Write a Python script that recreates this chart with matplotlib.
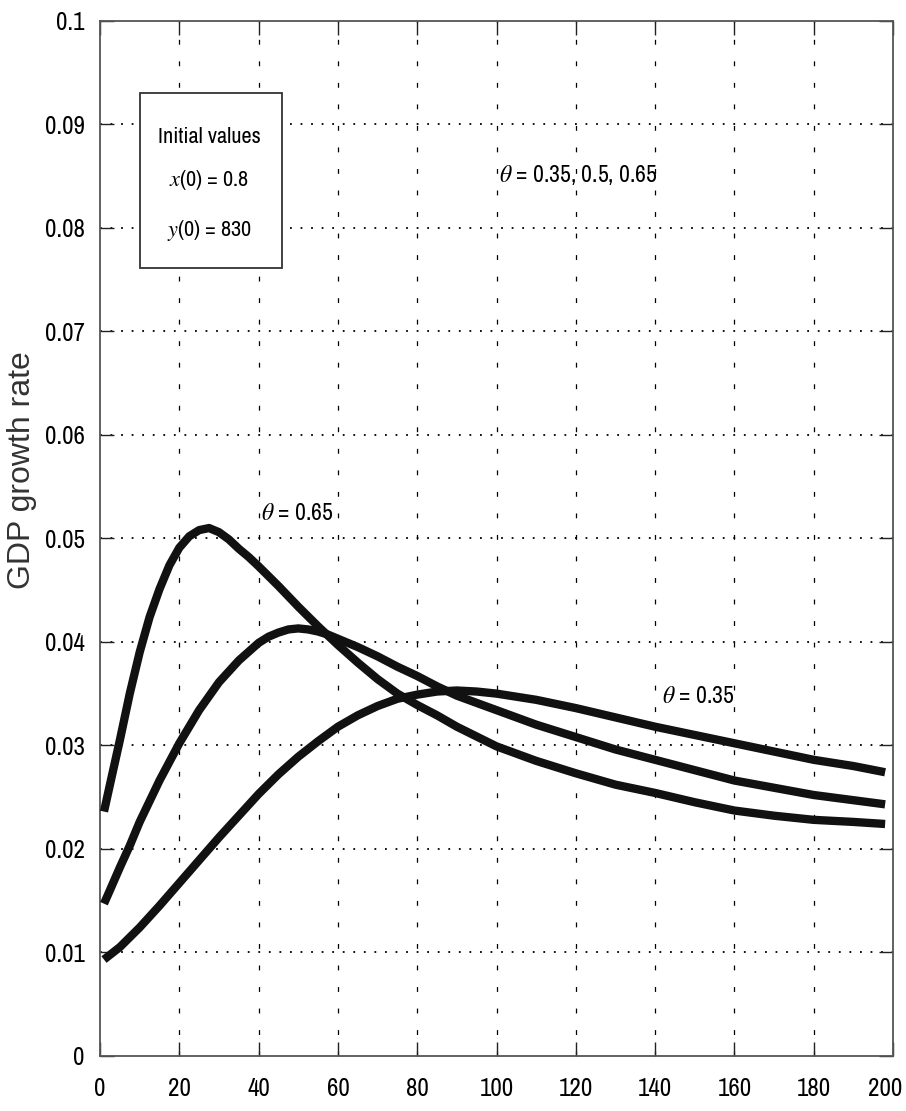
import numpy as np
import matplotlib
matplotlib.use("Agg")
import matplotlib.pyplot as plt
import matplotlib.patches as mpatches
import matplotlib.transforms as mtransforms
from matplotlib import font_manager

# values
x_065 = [1, 2.5, 5, 7.5, 10, 12.5, 15, 17.5, 20, 22.5, 25, 27.5, 30, 32.5, 35, 37.5, 40,
         45, 50, 55, 60, 65, 70, 75, 80, 85, 90, 100, 110, 120, 130, 140, 150, 160, 170,
         180, 190, 198]
y_065 = [0.0236, 0.0262, 0.0305, 0.0350, 0.0390, 0.0424, 0.0451, 0.0474, 0.0491, 0.0502,
         0.0508, 0.0510, 0.0506, 0.0499, 0.0490, 0.0482, 0.0473, 0.0454, 0.0434, 0.0415,
         0.0397, 0.0380, 0.0364, 0.0350, 0.0339, 0.0329, 0.0318, 0.0299, 0.0285, 0.0273,
         0.0262, 0.0254, 0.0245, 0.0237, 0.0232, 0.0228, 0.0226, 0.0224]

x_050 = [1, 2.5, 5, 7.5, 10, 15, 20, 25, 30, 35, 40, 42.5, 45, 47.5, 50, 52.5, 55, 57.5,
         60, 65, 70, 75, 80, 85, 90, 100, 110, 120, 130, 140, 150, 160, 170, 180, 190, 198]
y_050 = [0.0147, 0.0160, 0.0182, 0.0203, 0.0226, 0.0266, 0.0302, 0.0334, 0.0361, 0.0382,
         0.0399, 0.0405, 0.0409, 0.0412, 0.0413, 0.0412, 0.0410, 0.0407, 0.0403, 0.0395,
         0.0386, 0.0376, 0.0367, 0.0357, 0.0348, 0.0334, 0.0320, 0.0308, 0.0296, 0.0286,
         0.0276, 0.0266, 0.0259, 0.0252, 0.0247, 0.0243]

x_035 = [1, 5, 10, 15, 20, 25, 30, 35, 40, 45, 50, 55, 60, 65, 70, 75, 80, 85, 90, 95,
         100, 110, 120, 130, 140, 150, 160, 170, 180, 190, 198]
y_035 = [0.0093, 0.0105, 0.0124, 0.0145, 0.0167, 0.0189, 0.0211, 0.0232, 0.0253, 0.0272,
         0.0289, 0.0304, 0.0318, 0.0329, 0.0338, 0.0345, 0.0349, 0.0352, 0.0353, 0.0352,
         0.0350, 0.0344, 0.0336, 0.0327, 0.0318, 0.0310, 0.0302, 0.0294, 0.0286, 0.0280,
         0.0274]

xticks = np.arange(0, 201, 20)
yticks = np.round(np.arange(0, 0.101, 0.01), 2)
ytick_labels = ["0"] + ["%g" % v for v in yticks[1:]]

# use a narrow sans if the machine has one, else plain Liberation Sans
names = {f.name for f in font_manager.fontManager.ttflist}
narrow_names = sorted(n for n in names if "Narrow" in n or "Condensed" in n)
narrow = narrow_names[:1] + ["Liberation Sans", "DejaVu Sans"]

plt.rcParams["mathtext.fontset"] = "stix"
plt.rcParams["lines.scale_dashes"] = False

fig = plt.figure(figsize=(9.06, 11.11), dpi=100)
ax = fig.add_axes([0.1104, 0.0497, 0.8753, 0.9314])

# grid: dashed verticals, dotted horizontals
for xv in xticks[1:-1]:
    ax.axvline(xv, color="black", lw=0.9, ls=(0, (3.5, 12)), zorder=1)
for yv in yticks[1:-1]:
    ax.axhline(yv, color="black", lw=1.3, ls=(0, (1.3, 6.3)), zorder=1)

for xs, ys in [(x_065, y_065), (x_050, y_050), (x_035, y_035)]:
    ax.plot(xs, ys, color="#111111", lw=6, solid_capstyle="butt",
            solid_joinstyle="round", zorder=3)

ax.set_xlim(0, 200)
ax.set_ylim(0, 0.1)
ax.set_xticks(xticks)
ax.set_xticklabels([str(v) for v in xticks], family=narrow, fontsize=18)
ax.set_yticks(yticks)
ax.set_yticklabels(ytick_labels, family=narrow, fontsize=18)
ax.tick_params(direction="in", length=10, width=1, top=True, right=True, color="#222222")
ax.tick_params(axis="x", pad=15)
ax.tick_params(axis="y", pad=11)
for s in ax.spines.values():
    s.set_color("#555555")
    s.set_linewidth(1.3)

# keep the last x label inside the figure
last = ax.get_xticklabels()[-1]
last.set_transform(last.get_transform() +
                   mtransforms.ScaledTranslation(-8 / 100, 0, fig.dpi_scale_trans))

ax.set_ylabel("GDP growth rate", fontsize=23, family=["Liberation Sans", "DejaVu Sans"],
              color="#333333")
ax.yaxis.set_label_coords(-0.079, 0.566)

# annotations
box = mpatches.Rectangle((10.1, 0.0761), 35.9, 0.0169, fill=True, facecolor="white",
                         edgecolor="#333333", lw=1.3, zorder=4)
ax.add_patch(box)
ax.text(27.5, 0.0888, "Initial values", ha="center", va="center", fontsize=16,
        family=narrow, zorder=5)
ax.text(27.5, 0.0846, r"$x$(0) = 0.8", ha="center", va="center", fontsize=16,
        family=narrow, zorder=5)
ax.text(27.5, 0.0798, r"$y$(0) = 830", ha="center", va="center", fontsize=16,
        family=narrow, zorder=5)

ax.text(120.7, 0.0851, r"$\theta$ = 0.35, 0.5, 0.65", ha="center", va="center",
        fontsize=17, family=narrow, zorder=5)
ax.text(49.7, 0.0524, r"$\theta$ = 0.65", ha="center", va="center",
        fontsize=17, family=narrow, zorder=5)
ax.text(150.8, 0.0347, r"$\theta$ = 0.35", ha="center", va="center",
        fontsize=17, family=narrow, zorder=5)

fig.savefig("out.png", dpi=100)
